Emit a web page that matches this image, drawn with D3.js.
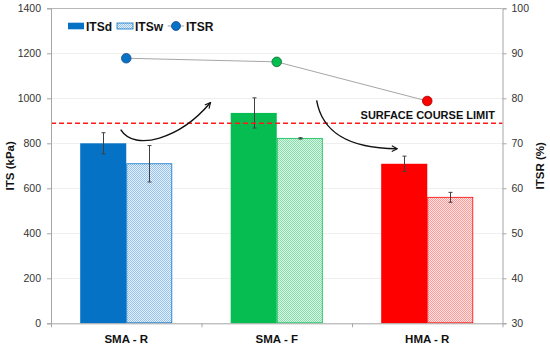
<!DOCTYPE html>
<html>
<head>
<meta charset="utf-8">
<script src="https://cdn.jsdelivr.net/npm/d3@7"></script>
<style>
    body { margin: 0; background: #fff; }
    svg { font-family: "Liberation Sans", Arial, sans-serif; }
</style>
</head>
<body>
<svg id="chart" width="550" height="348"></svg>
<script>
// data
const categories = ['SMA - R', 'SMA - F', 'HMA - R'];
const itsDry = [800, 935, 709];
const itsDryErr = [47, 67, 34];
const itsWet = [709, 822, 560];
const itsWetErr = [81, 3, 22];
const itsr = [88.9, 88.1, 79.4];
const baseColors = ['#0572C6', '#06BD52', '#FF0000'];
const tintColors = [['#e4f0fb', '#98c2ec'], ['#dcf6e6', '#86dcaa'], ['#ffe4e4', '#ff9a9a']];
const markerStroke = ['#1f4e8c', '#0a6b33', '#a00000'];
const leftTicks = [0, 200, 400, 600, 800, 1000, 1200, 1400];
const rightTicks = [30, 40, 50, 60, 70, 80, 90, 100];
const limitITS = 889;
const limitLabel = 'SURFACE COURSE LIMIT';
// annotation arrows, x in category units, y in kPa
const arrows = [
    [[0.463, 861], [0.558, 760], [0.857, 822], [1.057, 979]],
    [[1.765, 991], [1.80, 858], [1.953, 778], [2.297, 776]]
];

const W = 550, H = 348;
const M = {left: 51, right: 47.5, top: 8.3, bottom: 24.7};
const svg = d3.select('#chart');
const g = svg.append('g');

const x = d3.scaleBand().domain(categories).range([M.left, W - M.right]);
const xu = d3.scaleLinear().domain([0, 3]).range([M.left, W - M.right]);
const y = d3.scaleLinear().domain([0, 1400]).range([H - M.bottom, M.top]);
const yR = d3.scaleLinear().domain([30, 100]).range([H - M.bottom, M.top]);

const defs = svg.append('defs');
baseColors.forEach((c, i) => {
    const p = defs.append('pattern')
        .attr('id', 'hatch' + i)
        .attr('patternUnits', 'userSpaceOnUse')
        .attr('width', 2).attr('height', 2);
    p.append('rect').attr('width', 2).attr('height', 2).attr('fill', tintColors[i][0]);
    p.append('rect').attr('width', 1).attr('height', 1).attr('fill', tintColors[i][1]);
    p.append('rect').attr('x', 1).attr('y', 1).attr('width', 1).attr('height', 1).attr('fill', tintColors[i][1]);
});
defs.append('marker')
    .attr('id', 'arrowhead')
    .attr('viewBox', '0 0 10 10')
    .attr('refX', 8).attr('refY', 5)
    .attr('markerWidth', 7).attr('markerHeight', 7)
    .attr('markerUnits', 'userSpaceOnUse')
    .attr('orient', 'auto')
    .append('path')
    .attr('d', 'M1,1 L9,5 L1,9')
    .attr('fill', 'none')
    .attr('stroke', '#111')
    .attr('stroke-width', 1.6);

// gridlines
g.append('g').selectAll('line')
    .data(leftTicks.filter(d => d > 0))
    .enter().append('line')
    .attr('x1', M.left).attr('x2', W - M.right)
    .attr('y1', d => Math.round(y(d)) + 0.5).attr('y2', d => Math.round(y(d)) + 0.5)
    .attr('stroke', d => d === 1400 ? '#b8b8b8' : '#efefef');

// bars
const barW = x.bandwidth() * 0.306;
const groups = g.append('g').selectAll('g')
    .data(categories)
    .enter().append('g');

groups.append('rect')
    .attr('x', d => x(d) + x.bandwidth() / 2 - barW)
    .attr('width', barW)
    .attr('y', (d, i) => y(itsDry[i]))
    .attr('height', (d, i) => y(0) - y(itsDry[i]))
    .attr('fill', (d, i) => baseColors[i]);

groups.append('rect')
    .attr('x', d => x(d) + x.bandwidth() / 2 + 0.5)
    .attr('width', barW - 1)
    .attr('y', (d, i) => y(itsWet[i]))
    .attr('height', (d, i) => y(0) - y(itsWet[i]) - 0.5)
    .attr('fill', (d, i) => `url(#hatch${i})`)
    .attr('stroke', (d, i) => baseColors[i])
    .attr('stroke-width', 0.8);

// error bars
function errorBars(vals, errs, offset) {
    const eg = g.append('g').attr('stroke', '#404040').attr('stroke-width', 1);
    categories.forEach((c, i) => {
        const cx = Math.round(x(c) + x.bandwidth() / 2 + offset) + 0.5;
        const y1 = y(vals[i] + errs[i]), y2 = y(vals[i] - errs[i]);
        eg.append('line').attr('x1', cx).attr('x2', cx).attr('y1', y1).attr('y2', y2);
        eg.append('line').attr('x1', cx - 2).attr('x2', cx + 2).attr('y1', y1).attr('y2', y1);
        eg.append('line').attr('x1', cx - 2).attr('x2', cx + 2).attr('y1', y2).attr('y2', y2);
    });
}
errorBars(itsDry, itsDryErr, -barW / 2);
errorBars(itsWet, itsWetErr, barW / 2);

// limit line
g.append('line')
    .attr('x1', M.left).attr('x2', W - M.right)
    .attr('y1', y(limitITS)).attr('y2', y(limitITS))
    .attr('stroke', '#ff1a1a')
    .attr('stroke-width', 1.4)
    .attr('stroke-dasharray', '5,3');

g.append('text')
    .attr('x', 495).attr('y', y(limitITS) - 4.5)
    .attr('text-anchor', 'end')
    .attr('font-size', 11)
    .attr('font-weight', 'bold')
    .attr('fill', '#111')
    .text(limitLabel);

// ITSR line + points
const line = d3.line()
    .x((d, i) => x(categories[i]) + x.bandwidth() / 2)
    .y(d => yR(d));
g.append('path')
    .datum(itsr)
    .attr('d', line)
    .attr('fill', 'none')
    .attr('stroke', '#a6a6a6')
    .attr('stroke-width', 1);

g.append('g').selectAll('circle')
    .data(itsr)
    .enter().append('circle')
    .attr('cx', (d, i) => x(categories[i]) + x.bandwidth() / 2)
    .attr('cy', d => yR(d))
    .attr('r', 4.8)
    .attr('fill', (d, i) => baseColors[i])
    .attr('stroke', (d, i) => markerStroke[i])
    .attr('stroke-width', 0.8);

// arrows
g.append('g').selectAll('path')
    .data(arrows)
    .enter().append('path')
    .attr('d', a => {
        const p = a.map(d => [xu(d[0]), y(d[1])]);
        return `M${p[0]}C${p[1]} ${p[2]} ${p[3]}`;
    })
    .attr('fill', 'none')
    .attr('stroke', '#111')
    .attr('stroke-width', 1.4)
    .attr('marker-end', 'url(#arrowhead)');

// axes
const axisColor = '#a6a6a6';
const left = g.append('g')
    .attr('transform', `translate(${M.left},0)`)
    .call(d3.axisLeft(y).tickValues(leftTicks).tickFormat(d3.format('d')).tickSize(4).tickPadding(6));
const right = g.append('g')
    .attr('transform', `translate(${W - M.right},0)`)
    .call(d3.axisRight(yR).tickValues(rightTicks).tickFormat(d3.format('d')).tickSize(4).tickPadding(5));
const bottom = g.append('g')
    .attr('transform', `translate(0,${H - M.bottom})`)
    .call(d3.axisBottom(xu).tickValues([0, 1, 2, 3]).tickSize(4).tickFormat(''));

[left, right, bottom].forEach(a => {
    a.select('.domain').attr('stroke', axisColor);
    a.selectAll('.tick line').attr('stroke', axisColor);
    a.selectAll('.tick text')
        .attr('font-size', 10.5)
        .attr('fill', '#333')
        .attr('font-family', '"Liberation Sans", Arial, sans-serif');
});
bottom.select('.domain').attr('d', `M${M.left},0.5H${W - M.right}`);

// category labels
g.append('g').selectAll('text')
    .data(categories)
    .enter().append('text')
    .attr('x', d => x(d) + x.bandwidth() / 2)
    .attr('y', H - 5)
    .attr('text-anchor', 'middle')
    .attr('font-size', 11.5)
    .attr('font-weight', 'bold')
    .attr('fill', '#111')
    .text(d => d);

// axis titles
g.append('text')
    .attr('transform', `translate(14,${(M.top + H - M.bottom) / 2}) rotate(-90)`)
    .attr('text-anchor', 'middle')
    .attr('font-size', 11.5)
    .attr('font-weight', 'bold')
    .attr('fill', '#111')
    .text('ITS (kPa)');
g.append('text')
    .attr('transform', `translate(544,${(M.top + H - M.bottom) / 2}) rotate(-90)`)
    .attr('text-anchor', 'middle')
    .attr('font-size', 11.5)
    .attr('font-weight', 'bold')
    .attr('fill', '#111')
    .text('ITSR (%)');

// legend
const lg = g.append('g').attr('font-size', 12).attr('font-weight', 'bold').attr('fill', '#111');
lg.append('rect').attr('x', 68).attr('y', 22.7).attr('width', 16).attr('height', 6.6).attr('fill', baseColors[0]);
lg.append('text').attr('x', 86).attr('y', 30.5).text('ITSd');
lg.append('rect').attr('x', 117).attr('y', 23).attr('width', 16).attr('height', 6).attr('fill', 'url(#hatch0)')
    .attr('stroke', baseColors[0]).attr('stroke-width', 0.8);
lg.append('text').attr('x', 135).attr('y', 30.5).text('ITSw');
lg.append('line').attr('x1', 167.7).attr('x2', 184).attr('y1', 26).attr('y2', 26).attr('stroke', '#a6a6a6');
lg.append('circle').attr('cx', 176).attr('cy', 26).attr('r', 4.5)
    .attr('fill', baseColors[0]).attr('stroke', markerStroke[0]).attr('stroke-width', 0.8);
lg.append('text').attr('x', 186).attr('y', 30.5).text('ITSR');
</script>
</body>
</html>
